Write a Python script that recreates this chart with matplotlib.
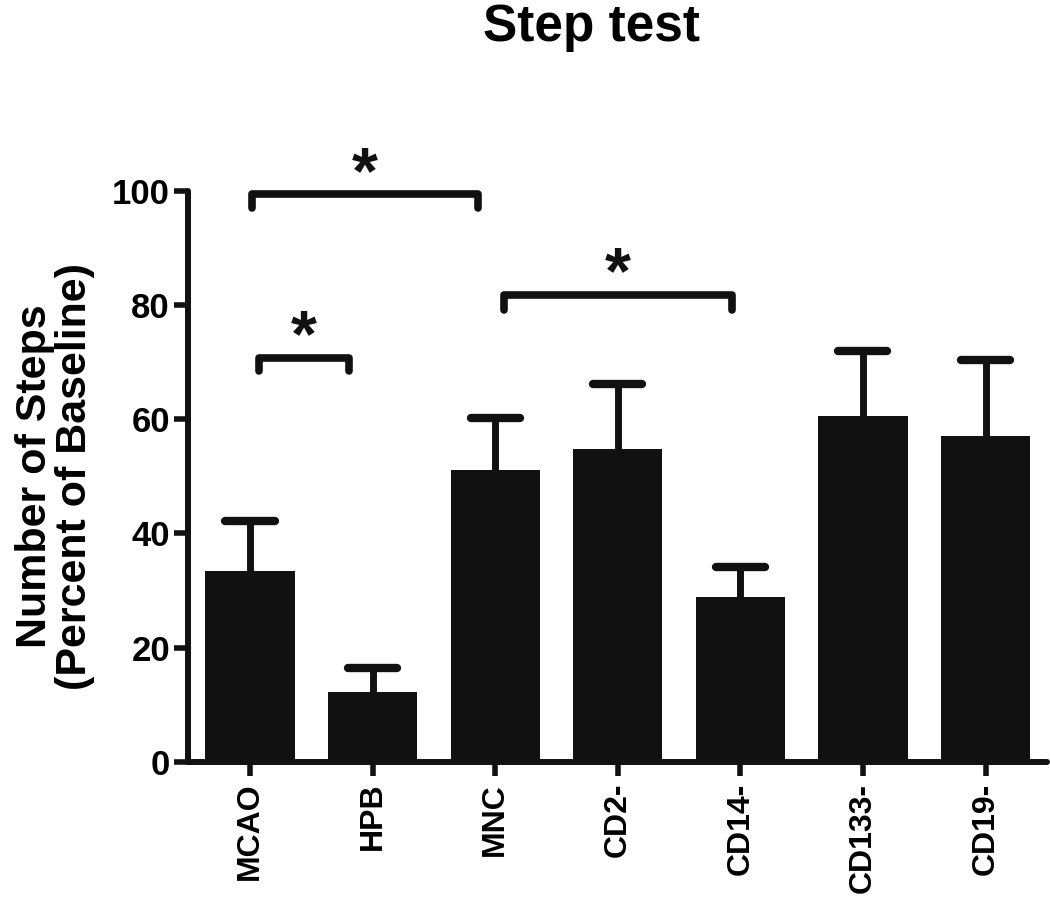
import numpy as np
import matplotlib
matplotlib.use("Agg")
import matplotlib.pyplot as plt

groups = ["MCAO", "HPB", "MNC", "CD2-", "CD14-", "CD133-", "CD19-"]
means = [33.5, 12.2, 51.1, 54.8, 28.9, 60.6, 57.0]
sem = [8.6, 4.2, 9.1, 11.4, 5.3, 11.4, 13.3]

# significance brackets: (x_left, x_right, y_top, y_end, star_y)
brackets = [(0.02, 1.86, 99.4, 97.0, 102.5),
            (0.07, 0.81, 70.8, 68.5, 74.0),
            (2.07, 3.93, 81.8, 79.2, 85.0)]

plt.rcParams['font.family'] = ['Liberation Sans', 'DejaVu Sans']
plt.rcParams['font.weight'] = 'bold'

fig = plt.figure(figsize=(10.5, 9.06), dpi=100)
ax = fig.add_axes([0.179, 0.159, 0.818, 0.6305])

x = np.arange(len(groups))
black = '#111111'
ax.bar(x, means, width=0.727, color=black, zorder=2)

# upper error bars only
for xi, m, e in zip(x, means, sem):
    ax.plot([xi, xi], [m, m + e], color=black, lw=5, zorder=1)
    ax.plot([xi - 0.2, xi + 0.2], [m + e, m + e], color=black, lw=6,
            solid_capstyle='round', zorder=1)

for x0, x1, yt, ye, ys in brackets:
    ax.plot([x0, x0, x1, x1], [ye, yt, yt, ye], color=black, lw=5.5,
            solid_capstyle='round', solid_joinstyle='round', clip_on=False)
    ax.text((x0 + x1) / 2, ys, '*', ha='center', va='center',
            fontsize=48, fontweight='bold', color=black)

ax.set_xlim(-0.506, 6.5)
ax.set_ylim(0, 100)
ax.set_yticks([0, 20, 40, 60, 80, 100])
ax.set_xticks(x)
ax.set_xticklabels(groups, rotation=90, fontsize=23, fontweight='bold')
ax.tick_params(axis='y', labelsize=25, width=4, length=10, color=black, pad=3)
ax.tick_params(axis='x', width=4, length=10, color=black, pad=5)
for lab in ax.get_yticklabels():
    lab.set_fontweight('bold')

for s in ['top', 'right']:
    ax.spines[s].set_visible(False)
for s in ['left', 'bottom']:
    ax.spines[s].set_linewidth(4.3)
    ax.spines[s].set_color(black)
    ax.spines[s].set_capstyle('round')

ax.set_ylabel('Number of Steps\n(Percent of Baseline)', fontsize=31,
              fontweight='bold', labelpad=12, linespacing=1.0)
fig.text(0.563, 0.997, 'Step test', ha='center', va='top', fontsize=37,
         fontweight='bold')

fig.savefig('out.png', dpi=100)
